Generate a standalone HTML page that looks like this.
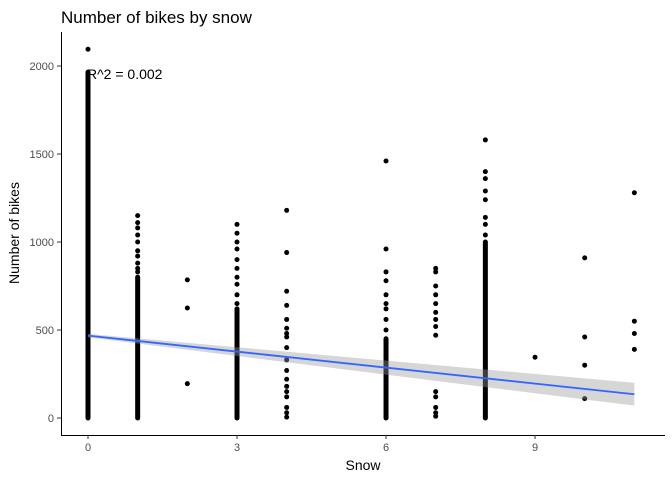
<!DOCTYPE html>
<html><head><meta charset="utf-8"><style>
body{margin:0;background:#fff;font-family:"Liberation Sans",sans-serif}
</style></head><body>
<svg id="c" width="672" height="480" xmlns="http://www.w3.org/2000/svg">
<text x="61" y="23" font-size="17" fill="#000">Number of bikes by snow</text>
<g id="plot"></g>
<text x="363" y="470" font-size="14" text-anchor="middle">Snow</text>
<text transform="translate(19,233) rotate(-90)" font-size="14" text-anchor="middle">Number of bikes</text>
</svg>
<script>
const categories=[0,1,2,3,4,6,7,8,9,10,11];
const denseMin=[0,0,null,0,null,0,null,0,null,null,null];
const denseMax=[1965,800,null,620,null,450,null,1000,null,null,null];
const scatter=[[2095],[830,850,880,920,950,1000,1040,1080,1110,1150],[785,625,195],[650,700,760,800,850,900,960,1000,1050,1100],[1180,940,720,640,560,510,480,460,400,330,270,220,180,150,120,60,30,5],[1460,960,830,780,700,650,620,560,500],[850,830,750,700,650,600,560,520,470,150,120,60,30,10],[1040,1100,1140,1240,1290,1360,1400,1580],[345],[910,460,300,110],[1280,550,480,390]];
const fitX=[0,11];const fitY=[468,135];const ciHalf=[10,65];
const xTicks=[0,3,6,9];const yTicks=[0,500,1000,1500,2000];
const sx=v=>88+v*49.67, sy=v=>418-v*0.176;
const ns="http://www.w3.org/2000/svg", g=document.getElementById('plot');
function mk(t,a){const e=document.createElementNS(ns,t);for(const k in a)e.setAttribute(k,a[k]);g.appendChild(e);return e;}
categories.forEach((c,i)=>{
 if(denseMax[i]!==null){const r=mk('line',{x1:sx(c),x2:sx(c),y1:sy(denseMin[i]),y2:sy(denseMax[i]),stroke:'#000','stroke-width':5,'stroke-linecap':'round'});
 
 }
 scatter[i].forEach(v=>{const p=mk('circle',{cx:sx(c),cy:sy(v),r:2.5,fill:'#000'});
 
 });
});
const band=mk('polygon',{points:`${sx(fitX[0])},${sy(fitY[0]+ciHalf[0])} ${sx(fitX[1])},${sy(fitY[1]+ciHalf[1])} ${sx(fitX[1])},${sy(fitY[1]-ciHalf[1])} ${sx(fitX[0])},${sy(fitY[0]-ciHalf[0])}`,fill:'#999','fill-opacity':0.4});


const fl=mk('line',{x1:sx(fitX[0]),y1:sy(fitY[0]),x2:sx(fitX[1]),y2:sy(fitY[1]),stroke:'#3366ff','stroke-width':1.8});


const ax=mk('path',{d:'M61.5,32 V435.5 H665',fill:'none',stroke:'#000','stroke-width':1});


xTicks.forEach(t=>{const l=mk('line',{x1:sx(t),x2:sx(t),y1:435,y2:439,stroke:'#333'});
 const tx=mk('text',{x:sx(t),y:451,'font-size':11,fill:'#4d4d4d','text-anchor':'middle'});tx.textContent=t;
 
 });
yTicks.forEach(t=>{const l=mk('line',{x1:57,x2:61,y1:sy(t),y2:sy(t),stroke:'#333'});
 const tx=mk('text',{x:54,y:sy(t)+4,'font-size':11,fill:'#4d4d4d','text-anchor':'end'});tx.textContent=t;
 
 });
const an=mk('text',{x:87,y:79,'font-size':14,fill:'#000'});an.textContent='R^2 = 0.002';


</script>
</body></html>
